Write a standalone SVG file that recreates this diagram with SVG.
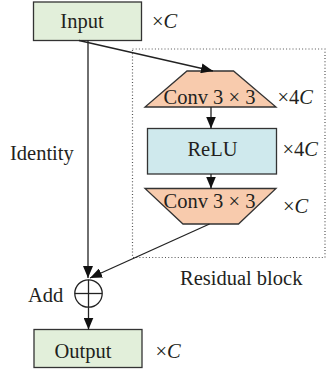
<svg xmlns="http://www.w3.org/2000/svg" width="326" height="373" viewBox="0 0 326 373">
  <style>
    text { font-family: "Liberation Serif", "Times New Roman", serif; font-size: 20.5px; fill: #231f20; }
    .mid { text-anchor: middle; }
    .it { font-style: italic; }
    .io { fill: #e2efda; stroke: #333; stroke-width: 1.3; }
    .conv { fill: #f8cbad; stroke: #333; stroke-width: 1.3; }
    .act { fill: #cfe9ed; stroke: #333; stroke-width: 1.3; }
    .edge { fill: none; stroke: #222; stroke-width: 1.3; }
    .frame { fill: none; stroke: #555; stroke-width: 1.2; stroke-dasharray: 1 2.2; }
  </style>
  <defs>
    <marker id="arrow" markerUnits="userSpaceOnUse" markerWidth="12" markerHeight="10" refX="12" refY="5" orient="auto">
      <path d="M0,0 L12,5 L0,10 Z" fill="#111"/>
    </marker>
  </defs>

  <!-- residual block frame -->
  <g id="residual-block">
    <rect class="frame" x="132.5" y="49" width="192.5" height="208.5"/>
    <text x="180" y="285">Residual block</text>
  </g>

  <g id="input">
    <rect class="io" x="33.5" y="2" width="108" height="38.5"/>
    <text class="mid" x="82" y="28">Input</text>
    <text x="152" y="28">×<tspan class="it">C</tspan></text>
  </g>

  <g id="conv1">
    <polygon class="conv" points="187,71 233.5,71 276,107 145,107"/>
    <text class="mid" x="209.5" y="104">Conv 3 × 3</text>
    <text x="277.5" y="104">×4<tspan class="it">C</tspan></text>
  </g>

  <g id="relu">
    <rect class="act" x="147.5" y="128.5" width="129" height="45.5"/>
    <text class="mid" x="212.5" y="156">ReLU</text>
    <text x="282.5" y="156">×4<tspan class="it">C</tspan></text>
  </g>

  <g id="conv2">
    <polygon class="conv" points="145,188.5 276,188.5 238.5,224 183,224"/>
    <text class="mid" x="209.5" y="207.5">Conv 3 × 3</text>
    <text x="283" y="213">×<tspan class="it">C</tspan></text>
  </g>

  <g id="add">
    <circle cx="88.5" cy="293.5" r="13.7" fill="#fff" stroke="#222" stroke-width="1.3"/>
    <line class="edge" x1="74.8" y1="293.5" x2="102.2" y2="293.5"/>
    <line class="edge" x1="88.5" y1="279.8" x2="88.5" y2="307.2"/>
    <text x="28" y="301.5">Add</text>
  </g>

  <g id="output">
    <rect class="io" x="34" y="329.5" width="108" height="38"/>
    <text class="mid" x="83" y="357.5">Output</text>
    <text x="155.5" y="358">×<tspan class="it">C</tspan></text>
  </g>

  <text id="identity-label" x="10" y="159.5">Identity</text>

  <g id="connectors">
    <line class="edge" x1="79" y1="40.5" x2="213" y2="71" marker-end="url(#arrow)"/>
    <line class="edge" x1="211" y1="107" x2="211" y2="128.5" marker-end="url(#arrow)"/>
    <line class="edge" x1="211" y1="174" x2="211" y2="188.5" marker-end="url(#arrow)"/>
    <line class="edge" x1="88" y1="40.5" x2="88" y2="278" marker-end="url(#arrow)"/>
    <line class="edge" x1="209.5" y1="224" x2="90" y2="278" marker-end="url(#arrow)"/>
    <line class="edge" x1="88.5" y1="307.2" x2="88.5" y2="329.5" marker-end="url(#arrow)"/>
  </g>
</svg>
